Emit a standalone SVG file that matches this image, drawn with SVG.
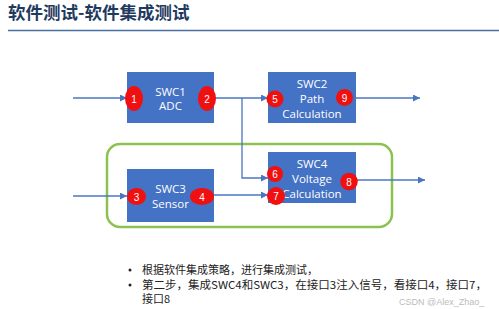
<svg xmlns="http://www.w3.org/2000/svg" width="499" height="309" viewBox="0 0 499 309">
<style>
.box{fill:#4472C4;}
.bt{fill:#ffffff;font-family:"Open Sans","Liberation Sans",sans-serif;font-size:11.5px;text-anchor:middle;dominant-baseline:central;}
.badge{fill:#f01010;}
.bn{fill:#ffffff;font-family:"Liberation Sans",sans-serif;font-size:10px;text-anchor:middle;dominant-baseline:central;}
.ln{stroke:#4a76c0;stroke-width:1.3;fill:none;}
.tx{font-family:"Noto Sans CJK SC","Liberation Sans",sans-serif;font-size:11px;fill:#222;}
</style>
<defs>
<marker id="ah" viewBox="0 0 10 10" refX="10" refY="5" markerWidth="7" markerHeight="7" markerUnits="userSpaceOnUse" orient="auto">
<path d="M0,0 L10,5 L0,10 z" fill="#4a76c0"/>
</marker>
</defs>
<rect width="499" height="309" fill="#ffffff"/>
<text x="8" y="19" font-family="'Noto Sans CJK SC',sans-serif" font-weight="bold" font-size="17.5" fill="#1f3a5f">软件测试-软件集成测试</text>
<line x1="8" y1="30.5" x2="499" y2="30.5" stroke="#4a6fa5" stroke-width="1.5"/>
<rect id="group" x="107" y="144" width="285" height="83" rx="13" fill="none" stroke="#8cc152" stroke-width="2.5"/>
<g id="connectors">
<path class="ln" d="M73,98 H127" marker-end="url(#ah)"/>
<path class="ln" d="M214,98 H268" marker-end="url(#ah)"/>
<path class="ln" d="M242,98 V178 H268" marker-end="url(#ah)"/>
<path class="ln" d="M356,98 H420" marker-end="url(#ah)"/>
<path class="ln" d="M73,196 H127" marker-end="url(#ah)"/>
<path class="ln" d="M214,195 H268" marker-end="url(#ah)"/>
<path class="ln" d="M356,180 H425" marker-end="url(#ah)"/>
</g>
<g id="swc1">
<rect class="box" x="127" y="72" width="87" height="51"/>
<text class="bt" x="170.5" y="91">SWC1</text>
<text class="bt" x="170.5" y="105">ADC</text>
<ellipse class="badge" cx="134" cy="98.5" rx="9" ry="12.5"/>
<text class="bn" x="134" y="99">1</text>
<ellipse class="badge" cx="207" cy="98.5" rx="9" ry="12.5"/>
<text class="bn" x="207" y="99">2</text>
</g>
<g id="swc2">
<rect class="box" x="268" y="72" width="88" height="51"/>
<text class="bt" x="312" y="83">SWC2</text>
<text class="bt" x="312" y="98">Path</text>
<text class="bt" x="312" y="113">Calculation</text>
<circle class="badge" cx="275" cy="99" r="8.5"/>
<text class="bn" x="275" y="99.5">5</text>
<circle class="badge" cx="344.5" cy="97.5" r="8.5"/>
<text class="bn" x="344.5" y="98">9</text>
</g>
<g id="swc3">
<rect class="box" x="127" y="169" width="87" height="53"/>
<text class="bt" x="170.5" y="188">SWC3</text>
<text class="bt" x="170.5" y="203">Sensor</text>
<ellipse class="badge" cx="136.5" cy="196.5" rx="9.5" ry="8.5"/>
<text class="bn" x="136.5" y="197">3</text>
<ellipse class="badge" cx="202" cy="196.5" rx="12" ry="8.5"/>
<text class="bn" x="202" y="197">4</text>
</g>
<g id="swc4">
<rect class="box" x="268" y="152" width="88" height="51"/>
<text class="bt" x="312" y="163">SWC4</text>
<text class="bt" x="312" y="178">Voltage</text>
<text class="bt" x="312" y="193">Calculation</text>
<circle class="badge" cx="275" cy="174" r="8"/>
<text class="bn" x="275" y="174.5">6</text>
<circle class="badge" cx="276" cy="196" r="9"/>
<text class="bn" x="276" y="196.5">7</text>
<circle class="badge" cx="349" cy="181.5" r="8.8"/>
<text class="bn" x="349" y="182">8</text>
</g>
<g id="notes">
<circle cx="130" cy="270" r="1.5" fill="#222"/>
<text class="tx" x="142" y="273.5">根据软件集成策略，进行集成测试，</text>
<circle cx="130" cy="285" r="1.5" fill="#222"/>
<text class="tx" x="142" y="288.5" textLength="345" lengthAdjust="spacingAndGlyphs">第二步，集成SWC4和SWC3，在接口3注入信号，看接口4，接口7，</text>
<text class="tx" x="142" y="303">接口8</text>
<text x="399" y="304.5" font-family="'Liberation Sans',sans-serif" font-size="9" fill="#bbbbbb">CSDN @Alex_Zhao_</text>
</g>
</svg>
